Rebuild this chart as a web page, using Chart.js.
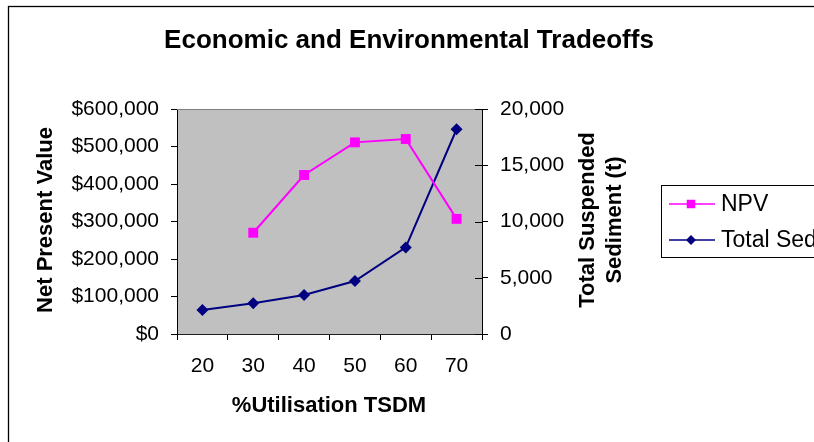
<!DOCTYPE html>
<html>
<head>
<meta charset="utf-8">
<script src="https://cdn.jsdelivr.net/npm/chart.js@4.4.1/dist/chart.umd.min.js"></script>
<style>
  html, body { margin: 0; padding: 0; background: #ffffff; }
  canvas { display: block; }
</style>
</head>
<body>
<canvas id="chart" width="814" height="442"></canvas>
<script>
// % utilisation of the TSDM (category axis)
const utilisation = ['20', '30', '40', '50', '60', '70'];
// Net present value ($) — no value at 20 %
const npv = [null, 270000, 424000, 511000, 520000, 307000];
// Total suspended sediment (t)
const totalSed = [2130, 2730, 3470, 4710, 7700, 18200];
// Axis tick values
const npvTicks = [0, 100000, 200000, 300000, 400000, 500000, 600000];
const sedTicks = [0, 5000, 10000, 15000, 20000];

const FONT = '"Liberation Sans", Arial, Helvetica, sans-serif';
const NPV_COLOR = '#FF00FF';
const SED_COLOR = '#000080';

// Plot area position inside the 814x442 canvas
const AREA = { left: 177, right: 482, top: 109, bottom: 334 };
const W = 814, H = 442;

const frame = {
  id: 'frame',
  beforeDraw(chart) {
    const { ctx, chartArea: a } = chart;
    ctx.save();
    ctx.fillStyle = '#ffffff';
    ctx.fillRect(0, 0, W, H);
    ctx.fillStyle = '#C0C0C0';
    ctx.fillRect(a.left, a.top, a.right - a.left, a.bottom - a.top);
    ctx.restore();
  },
  afterDraw(chart) {
    const { ctx, chartArea: a } = chart;
    ctx.save();

    // grey top edge of the plot area
    ctx.strokeStyle = '#808080';
    ctx.lineWidth = 1;
    ctx.beginPath();
    ctx.moveTo(a.left, a.top + 0.5);
    ctx.lineTo(a.right, a.top + 0.5);
    ctx.stroke();

    // secondary axis tick marks cross the axis line
    const y1 = chart.scales.y1;
    ctx.strokeStyle = '#000000';
    ctx.beginPath();
    y1.ticks.forEach(t => {
      const py = Math.round(y1.getPixelForValue(t.value)) + 0.5;
      ctx.moveTo(a.right - 7, py);
      ctx.lineTo(a.right, py);
    });
    ctx.stroke();

    // outer chart border
    ctx.strokeStyle = '#000000';
    ctx.lineWidth = 1.3;
    ctx.strokeRect(8.5, 6.5, W + 20, H + 20);

    ctx.fillStyle = '#000000';
    ctx.textAlign = 'center';
    ctx.textBaseline = 'middle';

    // chart title
    ctx.font = 'bold 26px ' + FONT;
    ctx.fillText('Economic and Environmental Tradeoffs', 409, 41);

    // x axis title
    ctx.font = 'bold 22px ' + FONT;
    ctx.fillText('%Utilisation TSDM', 329, 406);

    // left axis title
    ctx.save();
    ctx.translate(46, 220);
    ctx.rotate(-Math.PI / 2);
    ctx.fillText('Net Present Value', 0, 0);
    ctx.restore();

    // right axis title (two lines)
    ctx.save();
    ctx.translate(588, 220);
    ctx.rotate(-Math.PI / 2);
    ctx.fillText('Total Suspended', 0, 0);
    ctx.fillText('Sediment (t)', 0, 27);
    ctx.restore();

    // legend
    const lx = 661, ly = 185;
    ctx.strokeStyle = '#000000';
    ctx.lineWidth = 1;
    ctx.strokeRect(lx + 0.5, ly + 0.5, 200, 72);
    const entries = [
      { text: 'NPV', color: NPV_COLOR, style: 'rect', r: 6, y: ly + 19 },
      { text: 'Total Sed', color: SED_COLOR, style: 'rectRot', r: 5, y: ly + 55 }
    ];
    entries.forEach(e => {
      ctx.strokeStyle = e.color;
      ctx.lineWidth = 1.5;
      ctx.beginPath();
      ctx.moveTo(669, e.y);
      ctx.lineTo(715, e.y);
      ctx.stroke();
      ctx.fillStyle = e.color;
      Chart.helpers.drawPoint(ctx, { pointStyle: e.style, radius: e.r, borderWidth: 0 }, 691, e.y);
      ctx.fillStyle = '#000000';
      ctx.textAlign = 'left';
      ctx.font = '23px ' + FONT;
      ctx.fillText(e.text, 721, e.y + 1);
    });

    ctx.restore();
  }
};

const tickFont = { family: FONT, size: 21 };

new Chart(document.getElementById('chart'), {
  type: 'line',
  data: {
    labels: utilisation,
    datasets: [
      {
        label: 'NPV',
        data: npv,
        yAxisID: 'y',
        borderColor: NPV_COLOR,
        backgroundColor: NPV_COLOR,
        borderWidth: 2,
        pointStyle: 'rect',
        pointRadius: 7,
        pointHoverRadius: 7,
        pointBorderWidth: 0,
        tension: 0,
        spanGaps: false
      },
      {
        label: 'Total Sed',
        data: totalSed,
        yAxisID: 'y1',
        borderColor: SED_COLOR,
        backgroundColor: SED_COLOR,
        borderWidth: 2,
        pointStyle: 'rectRot',
        pointRadius: 6,
        pointHoverRadius: 6,
        pointBorderWidth: 0,
        tension: 0
      }
    ]
  },
  options: {
    responsive: false,
    animation: false,
    events: [],
    layout: { padding: { left: 0, right: 0, top: AREA.top, bottom: 0 } },
    plugins: {
      legend: { display: false },
      title: { display: false },
      tooltip: { enabled: false }
    },
    scales: {
      x: {
        type: 'category',
        offset: true,
        afterFit(s) { s.height = H - AREA.bottom; },
        grid: { offset: true, drawOnChartArea: false, drawTicks: true, tickLength: 6, color: '#000000' },
        border: { display: true, color: '#202020', width: 1 },
        ticks: { font: tickFont, color: '#000000', padding: 14, maxRotation: 0 }
      },
      y: {
        position: 'left',
        min: 0,
        max: 600000,
        afterBuildTicks(s) { s.ticks = npvTicks.map(v => ({ value: v })); },
        afterFit(s) { s.width = AREA.left; },
        grid: { drawOnChartArea: false, drawTicks: true, tickLength: 6, color: '#000000' },
        border: { display: true, color: '#000000', width: 1 },
        ticks: {
          font: tickFont,
          color: '#000000',
          padding: 12,
          callback: v => '$' + Number(v).toLocaleString('en-US')
        }
      },
      y1: {
        position: 'right',
        min: 0,
        max: 20000,
        afterBuildTicks(s) { s.ticks = sedTicks.map(v => ({ value: v })); },
        afterFit(s) { s.width = W - AREA.right; },
        grid: { drawOnChartArea: false, drawTicks: true, tickLength: 6, color: '#000000' },
        border: { display: true, color: '#000000', width: 1 },
        ticks: {
          font: tickFont,
          color: '#000000',
          padding: 12,
          callback: v => Number(v).toLocaleString('en-US')
        }
      }
    }
  },
  plugins: [frame]
});
</script>
</body>
</html>
